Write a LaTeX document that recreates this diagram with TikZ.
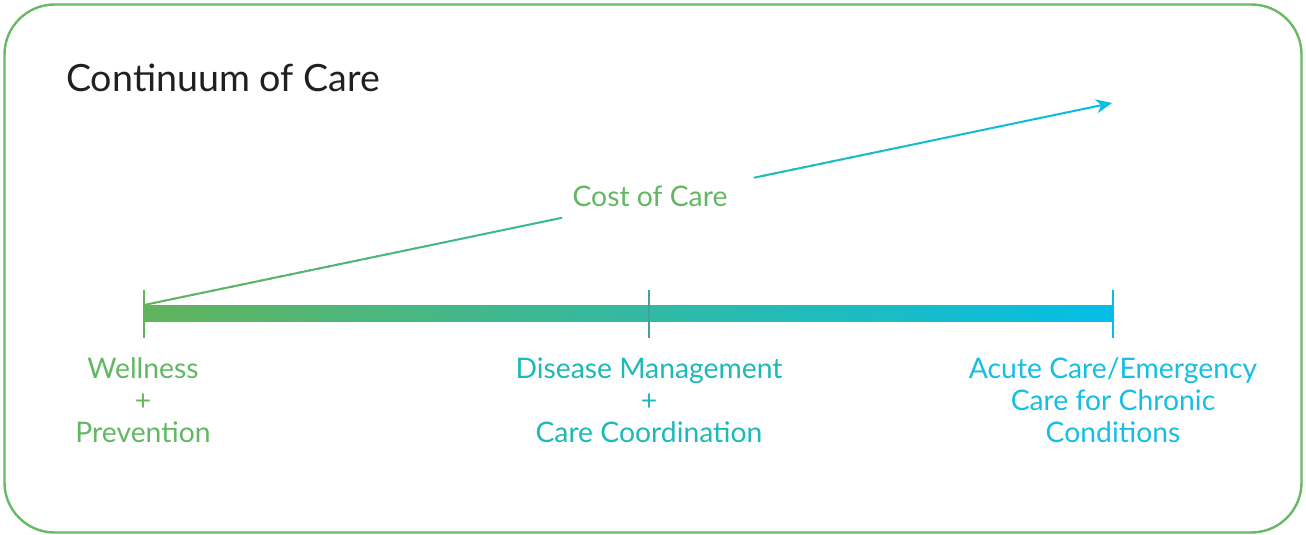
\documentclass[tikz,border=0pt]{standalone}
\usepackage{fontspec}
\setmainfont{Lato}
\usetikzlibrary{calc,arrows.meta}
\definecolor{frameG}{RGB}{104,185,100}
\definecolor{gA}{RGB}{98,180,92}
\definecolor{gM}{RGB}{104,192,166}
\definecolor{cA}{RGB}{4,190,230}
\definecolor{midT}{RGB}{76,156,152}
\definecolor{txtG}{RGB}{98,184,98}
\definecolor{txtT}{RGB}{30,184,184}
\definecolor{txtC}{RGB}{22,190,228}
\definecolor{ttl}{RGB}{35,31,32}
\tikzset{
  lbl/.style={align=center,font=\fontsize{28.3}{32}\selectfont,anchor=base,inner sep=0pt},
  tickl/.style={line width=2pt},
}
\begin{document}
\begin{tikzpicture}[x=1pt,y=-1pt]
\useasboundingbox (0,0) rectangle (1306,535);
\draw[frameG,line width=2.4pt,rounded corners=50pt] (4.5,4.5) rectangle (1301.5,532.5);
\node[anchor=base west,inner sep=0pt,text=ttl,font=\fontsize{37.6}{42}\selectfont] (title) at (66,92) {Continuum of Care};
% bar
\coordinate (b0) at (144,313);
\coordinate (bm) at (649,313);
\coordinate (b1) at (1113,313);
\shade[left color=gA,middle color=gM,right color=cA] (144,305) rectangle (1113,321);
\draw[tickl,gA] (144,290) -- (144,338);
\draw[tickl,midT] (649,290) -- (649,338);
\draw[tickl,cA] (1113,290) -- (1113,338);
% cost arrow
\coordinate (s) at (144,305);
\coordinate (e) at (1112,103);
\foreach \i in {0,...,42}{
  \pgfmathsetmacro{\ta}{\i/100}
  \pgfmathsetmacro{\tb}{(\i+1.2)/100}
  \pgfmathsetmacro{\p}{\i}
  \draw[line width=2pt,cA!\p!gA] ($(s)!\ta!(e)$) -- ($(s)!\tb!(e)$);
}
\foreach \i in {63,...,96}{
  \pgfmathsetmacro{\ta}{\i/100}
  \pgfmathsetmacro{\tb}{(\i+1.2)/100}
  \pgfmathsetmacro{\p}{\i}
  \draw[line width=2pt,cA!\p!gA] ($(s)!\ta!(e)$) -- ($(s)!\tb!(e)$);
}
\draw[line width=2pt,cA,-{Stealth[length=16pt,width=14pt]}] ($(s)!0.97!(e)$) -- (e);
\node[lbl,text=txtG] (cost) at (650,206) {Cost of Care};
% labels
\node[lbl,text=txtG] (wel) at (143,442) {Wellness\\+\\Prevention};
\node[lbl,text=txtT] (dis) at (649,442) {Disease Management\\+\\Care Coordination};
\node[lbl,text=txtC] (acu) at (1113,442) {Acute Care/Emergency\\Care for Chronic\\Conditions};
\end{tikzpicture}
\end{document}
